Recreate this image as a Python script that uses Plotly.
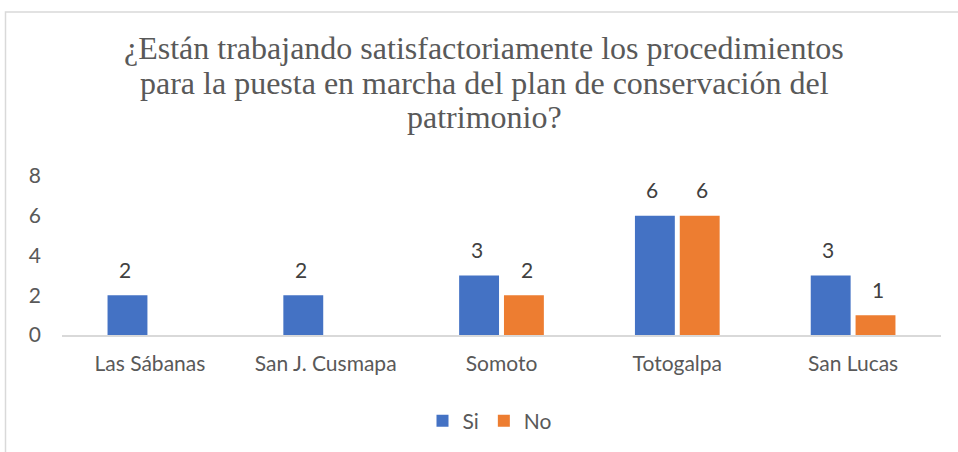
import plotly.graph_objects as go

categories = ["Las Sábanas", "San J. Cusmapa", "Somoto", "Totogalpa", "San Lucas"]
si_values = [2, 2, 3, 6, 3]
no_values = [None, None, 2, 6, 1]
y_ticks = [0, 2, 4, 6, 8]
title_lines = ["¿Están trabajando satisfactoriamente los procedimientos",
               "para la puesta en marcha del plan de conservación del",
               "patrimonio?"]

BLUE = "#4472C4"
ORANGE = "#ED7D31"
SANS = "Lato, Carlito, Calibri, sans-serif"
label_font = dict(family=SANS, size=21, color="#404040")
tick_font = dict(family=SANS, size=21, color="#595959")
title_font = dict(family="Liberation Serif, Times New Roman, serif", size=32, color="#595959")

W, H = 958, 452
L, R, T, B = 62, 17, 176, 116
pw, ph = W - L - R, H - T - B


def px(x):
    return (x - L) / pw


def py(y):
    return (H - B - y) / ph


fig = go.Figure()
fig.add_trace(go.Bar(name="Si", x=categories, y=si_values, marker_color=BLUE,
                     marker_line_width=0, cliponaxis=False))
fig.add_trace(go.Bar(name="No", x=categories, y=no_values, marker_color=ORANGE,
                     marker_line_width=0, cliponaxis=False))

# data labels placed above bars
for vals, shift in ((si_values, -25), (no_values, 25)):
    for c, v in zip(categories, vals):
        if v is None:
            continue
        fig.add_annotation(x=c, y=v, xref="x", yref="y", text=str(v), showarrow=False,
                           xshift=shift, yshift=26, yanchor="middle", font=label_font)

# title lines
for i, line in enumerate(title_lines):
    fig.add_annotation(x=px(484), y=py(47 + 35 * i), xref="paper", yref="paper",
                       text=line, showarrow=False, xanchor="center", yanchor="middle",
                       font=title_font)

fig.update_layout(
    width=W, height=H,
    margin=dict(l=L, r=R, t=T, b=B, pad=0),
    paper_bgcolor="white", plot_bgcolor="white",
    barmode="group", bargap=0.49, bargroupgap=0.11,
    xaxis=dict(showline=True, linecolor="#D9D9D9", linewidth=1.5, ticks="",
               tickfont=tick_font, showgrid=False, ticklabelstandoff=9),
    yaxis=dict(range=[0, 8], tickvals=y_ticks, showgrid=False, zeroline=False,
               showline=False, tickfont=tick_font, ticklabelstandoff=20),
    legend=dict(orientation="h", x=px(490), xanchor="center", y=py(421), yanchor="middle",
                font=tick_font, itemwidth=30, traceorder="normal"),
    showlegend=True,
)

fig.add_shape(type="path", xref="paper", yref="paper",
              path=f"M {px(5.5)} {py(470)} L {px(5.5)} {py(11)} L {px(970)} {py(11)}",
              line=dict(color="#D9D9D9", width=1.5))

fig.write_html("out.html", config={"displayModeBar": False},
               post_script="document.body.style.margin='0';")
